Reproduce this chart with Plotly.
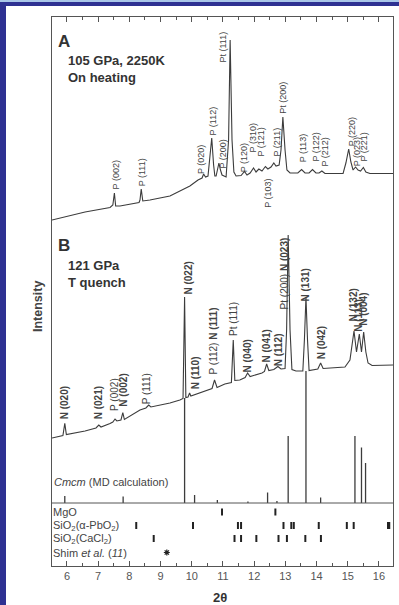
import plotly.graph_objects as go

# ---------------- data (2theta in degrees, intensity in arbitrary units) ----------------
# Pattern A: 105 GPa, 2250 K, on heating
a_two_theta = [5.52, 6.58, 7.38, 7.47, 7.52, 7.56, 7.70, 8.31, 8.34, 8.38, 8.43, 8.66, 9.30, 9.94,
               10.20, 10.33, 10.38, 10.44, 10.52, 10.58, 10.64, 10.70, 10.74, 10.78, 10.82, 10.87,
               10.92, 10.97, 11.10, 11.18, 11.23, 11.29, 11.35, 11.42, 11.58, 11.69, 11.77, 11.87,
               11.98, 12.06, 12.15, 12.25, 12.36, 12.44, 12.54, 12.63, 12.70, 12.80, 12.86, 12.92,
               12.99, 13.05, 13.15, 13.40, 13.52, 13.63, 13.76, 13.87, 13.98, 14.08, 14.17, 14.27,
               14.85, 14.94, 15.03, 15.10, 15.17, 15.25, 15.33, 15.41, 15.50, 15.58, 15.71, 16.45]
a_intensity = [346, 354, 358.5, 361, 373, 360, 360, 363.5, 366, 377, 365, 366, 370, 380,
               386, 388, 392, 389, 390, 406, 428, 401, 390, 390, 396, 403,
               396, 391, 389, 426, 526, 426, 394, 390, 390.5, 394.5, 391, 393,
               398, 394, 397, 395, 399.5, 397, 399, 403, 400, 401, 416, 449,
               416, 396, 393, 393, 396.5, 393, 393, 396.5, 393, 393, 395, 392.5,
               392.5, 403, 417, 404, 396, 399, 396, 395, 398.5, 394, 392.5, 392.5]

# Pattern B: 121 GPa, T quench
b_two_theta = [5.52, 5.87, 5.93, 5.98, 6.58, 6.93, 7.02, 7.09, 7.38, 7.47, 7.54, 7.60, 7.73, 7.79,
               7.84, 8.34, 8.53, 8.62, 8.69, 9.30, 9.62, 9.72, 9.77, 9.81, 9.88, 9.93, 9.97,
               10.42, 10.65, 10.73, 10.81, 11.06, 11.27, 11.33, 11.38, 11.54, 11.71, 11.79, 11.87,
               12.25, 12.33, 12.40, 12.47, 12.63, 12.76, 12.86, 12.99, 13.04, 13.09, 13.15, 13.21,
               13.34, 13.56, 13.61, 13.66, 13.71, 13.76, 14.04, 14.13, 14.21, 14.91, 15.07, 15.20,
               15.28, 15.37, 15.44, 15.51, 15.58, 15.65, 15.78, 16.45]
b_intensity = [128, 130.5, 142.7, 131.5, 135, 138, 141, 139, 142.5, 144, 147, 145, 146, 153.3,
               146.5, 156, 158, 161, 159, 163, 166, 167.5, 269, 168.5, 169, 173, 170,
               175, 177.5, 186, 178.5, 182, 183.5, 226, 185.5, 186, 188.5, 193, 189.5,
               193, 194.5, 202, 195.5, 196.5, 199.5, 197, 197.5, 236, 331, 236, 196.5,
               195, 195, 226, 269, 226, 195.5, 197, 203, 197.5, 199, 206, 235,
               214, 232, 214, 234, 214, 203, 200.5, 201]

# Cmcm (MD calculation) stick pattern
stick_base = 63
stick_two_theta = [5.93, 7.80, 9.77, 10.09, 10.82, 11.80, 12.43, 12.73, 13.09, 13.66, 14.13, 15.23, 15.44, 15.57]
stick_top = [70, 69.5, 168, 71, 66, 64.5, 73.5, 65, 130, 195, 68.5, 130, 118.5, 103]

# reference reflection positions
mgo_pos = [10.97, 12.68]
pbo2_pos = [8.22, 10.04, 11.48, 11.58, 12.94, 13.19, 13.27, 14.07, 14.97, 15.19, 16.29, 16.33]
cacl2_pos = [8.78, 11.37, 11.58, 12.07, 12.78, 13.05, 13.64, 14.14]
shim_pos = [9.20]
row_y = {"mgo": 54, "pbo2": 40.5, "cacl2": 27.5, "shim": 13.5}

# peak labels: (text, 2theta, intensity of label bottom)
a_labels = [("P (002)", 7.57, 376), ("P (111)", 8.40, 378.5), ("P (020)", 10.28, 391),
            ("P (112)", 10.65, 429), ("P (200)", 10.97, 396), ("Pt (111)", 10.97, 502),
            ("P (120)", 11.67, 393), ("P (310)", 11.96, 413), ("P (121)", 12.19, 408),
            ("P (211)", 12.70, 408), ("Pt (200)", 12.92, 451), ("P (113)", 13.56, 403),
            ("P (122)", 13.95, 403), ("P (212)", 14.27, 399), ("P (220)", 15.13, 419),
            ("P (023)", 15.29, 399), ("P (221)", 15.49, 403)]
a_labels_below = [("P (103)", 12.42, 388)]
b_labels = [("<b>N (020)</b>", 5.93, 146), ("<b>N (021)</b>", 7.02, 146), ("P (002)", 7.52, 154),
            ("<b>N (002)</b>", 7.80, 158), ("P (111)", 8.56, 161), ("<b>N (022)</b>", 9.88, 270),
            ("<b>N (110)</b>", 10.13, 176), ("P (112) <b>N (111)</b>", 10.71, 191),
            ("Pt (111)", 11.32, 229), ("<b>N (040)</b>", 11.80, 193), ("<b>N (041)</b>", 12.41, 203),
            ("<b>N (112)</b>", 12.79, 199), ("Pt (200) <b>N (023)</b>", 12.97, 256),
            ("<b>N (131)</b>", 13.66, 264), ("<b>N (042)</b>", 14.17, 206),
            ("<b>N (132)</b>", 15.17, 243), ("<b>N (113)</b>", 15.34, 233), ("<b>N (004)</b>", 15.50, 239)]

x_ticks = [6, 7, 8, 9, 10, 11, 12, 13, 14, 15, 16]

# ---------------- figure ----------------
FONT = "Liberation Sans, Arial, Helvetica, sans-serif"
LINE = "#3c3c3c"
TXT = "#444444"
MARK = "#222222"

fig = go.Figure()
fig.add_trace(go.Scatter(x=a_two_theta, y=a_intensity, mode="lines",
                         line=dict(color=LINE, width=1.1), hoverinfo="skip"))
fig.add_trace(go.Scatter(x=b_two_theta, y=b_intensity, mode="lines",
                         line=dict(color=LINE, width=1.1), hoverinfo="skip"))

sx, sy = [], []
for p, t in zip(stick_two_theta, stick_top):
    sx += [p, p, None]
    sy += [stick_base, t, None]
fig.add_trace(go.Scatter(x=sx, y=sy, mode="lines", line=dict(color=LINE, width=1.3), hoverinfo="skip"))

for pos, key in [(mgo_pos, "mgo"), (pbo2_pos, "pbo2"), (cacl2_pos, "cacl2")]:
    fig.add_trace(go.Scatter(x=pos, y=[row_y[key]] * len(pos), mode="markers",
                             marker=dict(symbol="line-ns-open", size=5, color=MARK,
                                         line=dict(color=MARK, width=2)), hoverinfo="skip"))
fig.add_trace(go.Scatter(x=shim_pos, y=[row_y["shim"]] * len(shim_pos), mode="markers",
                         marker=dict(symbol="asterisk-open", size=5, color=MARK,
                                     line=dict(color=MARK, width=1.2)), hoverinfo="skip"))

ann = []
for txt, x, y in a_labels:
    ann.append(dict(text=txt, x=x, y=y, xref="x", yref="y", textangle=-90, showarrow=False,
                    xanchor="center", yanchor="bottom", font=dict(size=9, color=TXT, family=FONT),
                    borderpad=0))
for txt, x, y in a_labels_below:
    ann.append(dict(text=txt, x=x, y=y, xref="x", yref="y", textangle=-90, showarrow=False,
                    xanchor="center", yanchor="top", font=dict(size=9, color=TXT, family=FONT),
                    borderpad=0))
for txt, x, y in b_labels:
    ann.append(dict(text=txt, x=x, y=y, xref="x", yref="y", textangle=-90, showarrow=False,
                    xanchor="center", yanchor="bottom", font=dict(size=10, color=TXT, family=FONT),
                    borderpad=0))

def pp(px, py):
    return (px - 52) / 341.0, (566 - py) / 549.0

for txt, px, py, size in [("<b>A</b>", 57, 41, 17), ("<b>105 GPa, 2250K</b>", 67, 60, 13),
                          ("<b>On heating</b>", 67, 77, 13), ("<b>B</b>", 57, 245, 17),
                          ("<b>121 GPa</b>", 67, 265, 13), ("<b>T quench</b>", 67, 283, 13)]:
    x, y = pp(px, py)
    ann.append(dict(text=txt, x=x, y=y, xref="paper", yref="paper", showarrow=False,
                    xanchor="left", yanchor="middle", font=dict(size=size, color="#333", family=FONT),
                    borderpad=0))

x, y = pp(53, 482)
ann.append(dict(text="<i>Cmcm</i> (MD calculation)", x=x, y=y, xref="paper", yref="paper",
                showarrow=False, xanchor="left", yanchor="middle",
                font=dict(size=11, color=TXT, family=FONT), borderpad=0))
for txt, key in [("MgO", "mgo"), ("SiO<sub>2</sub>(α-PbO<sub>2</sub>)", "pbo2"),
                 ("SiO<sub>2</sub>(CaCl<sub>2</sub>)", "cacl2"), ("Shim <i>et al.</i> (<i>11</i>)", "shim")]:
    ann.append(dict(text=txt, x=0.0, y=row_y[key], xref="paper", yref="y", showarrow=False,
                    xanchor="left", yanchor="middle", font=dict(size=11, color=TXT, family=FONT),
                    borderpad=0))

x, y = pp(38, 307)
ann.append(dict(text="<b>Intensity</b>", x=x, y=y, xref="paper", yref="paper", textangle=-90,
                showarrow=False, xanchor="center", yanchor="middle",
                font=dict(size=12.5, color="#444", family=FONT)))
x, y = pp(220, 597)
ann.append(dict(text="<b>2θ</b>", x=x, y=y, xref="paper", yref="paper", showarrow=False,
                xanchor="center", yanchor="middle", font=dict(size=13, color="#333", family=FONT)))

# border of page: navy frame with a light strip on top, white panel
wx0, wy1 = pp(6, 6)
wx1, wy0 = pp(399, 605)
sx0, sy0 = pp(0, 2)
sx1, sy1 = pp(399, 0)
shapes = [
    dict(type="rect", xref="paper", yref="paper", x0=wx0, x1=wx1, y0=wy0, y1=wy1,
         fillcolor="white", line=dict(width=0), layer="below"),
    dict(type="rect", xref="paper", yref="paper", x0=sx0, x1=sx1, y0=sy0, y1=sy1 + 0.01,
         fillcolor="#a9c6e8", line=dict(width=0), layer="below"),
    dict(type="line", xref="paper", yref="y", x0=0, x1=1, y0=stick_base, y1=stick_base,
         line=dict(color="#555", width=1)),
]

fig.update_layout(
    width=399, height=605,
    margin=dict(l=52, r=6, t=17, b=39),
    paper_bgcolor="#2e3192", plot_bgcolor="white",
    showlegend=False,
    annotations=ann, shapes=shapes,
    font=dict(family=FONT, color=TXT),
    xaxis=dict(range=[5.52, 16.45], tickvals=x_ticks, ticktext=[str(t) for t in x_ticks],
               ticks="inside", ticklen=5, tickwidth=1, tickcolor="#555",
               minor=dict(dtick=0.5, tick0=0, ticks="inside", ticklen=3, tickcolor="#555"),
               showline=True, linecolor="#555", linewidth=1.2, mirror="allticks",
               showgrid=False, zeroline=False, tickfont=dict(size=11, color="#555", family=FONT)),
    yaxis=dict(range=[0, 549], showticklabels=False, ticks="", showline=True, linecolor="#555",
               linewidth=1.2, mirror=True, showgrid=False, zeroline=False),
)

fig.write_html("out.html", config={"displayModeBar": False},
               post_script="document.body.style.margin='0';")
